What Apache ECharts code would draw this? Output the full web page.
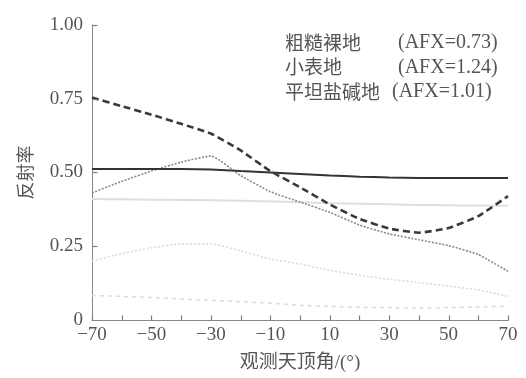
<!DOCTYPE html>
<html>
<head>
<meta charset="utf-8">
<script src="https://cdn.jsdelivr.net/npm/echarts@6/dist/echarts.min.js"></script>
<style>
  html, body { margin: 0; padding: 0; background: #fff; }
  #chart { width: 526px; height: 378px; }
</style>
</head>
<body>
<div id="chart"></div>
<script>
// View zenith angles (degrees)
const angles = [-70, -60, -50, -40, -30, -20, -10, 0, 10, 20, 30, 40, 50, 60, 70];

// Reflectance curves
const darkSolid  = [0.512, 0.512, 0.512, 0.512, 0.510, 0.505, 0.500, 0.495, 0.490, 0.486, 0.483, 0.481, 0.481, 0.481, 0.481];
const darkDashed = [0.754, 0.725, 0.696, 0.665, 0.632, 0.575, 0.505, 0.450, 0.392, 0.343, 0.310, 0.296, 0.312, 0.352, 0.420];
const grayDotted = [0.431, 0.470, 0.505, 0.535, 0.556, 0.490, 0.435, 0.400, 0.365, 0.322, 0.292, 0.272, 0.252, 0.222, 0.165];
const lightSolid = [0.410, 0.409, 0.408, 0.407, 0.406, 0.404, 0.402, 0.399, 0.396, 0.394, 0.392, 0.390, 0.389, 0.388, 0.387];
const lightDotted = [0.200, 0.225, 0.245, 0.258, 0.258, 0.235, 0.207, 0.190, 0.168, 0.152, 0.138, 0.127, 0.115, 0.102, 0.080];
const lightDashed = [0.083, 0.080, 0.076, 0.071, 0.067, 0.062, 0.057, 0.050, 0.046, 0.043, 0.042, 0.041, 0.042, 0.044, 0.047];

// Tick positions on both axes
const xTicks = [-70, -60, -50, -40, -30, -20, -10, 0, 10, 20, 30, 40, 50, 60, 70];
const yTicks = [0.25, 0.5, 0.75, 1.0];

// Surface types and anisotropy factors shown in the key
const surfaceNames = ['粗糙裸地', '小表地', '平坦盐碱地'];
const afxValues = ['0.73', '1.24', '1.01'];

const serif = "'Liberation Serif', 'Times New Roman', 'Noto Sans CJK SC', serif";
const textColor = '#555';
const tickColor = '#7a7a7a';
const tickLen = 5;

function pairs(values) {
  return angles.map((a, i) => [a, values[i]]);
}

function lineSeries(name, values, color, width, type, z) {
  return {
    name: name,
    type: 'line',
    data: pairs(values),
    showSymbol: false,
    smooth: 0.15,
    z: z,
    lineStyle: { color: color, width: width, type: type }
  };
}

// Inward tick marks drawn at the axis positions given by the scales
function tickSeries(name, data, vertical) {
  return {
    name: name,
    type: 'custom',
    data: data,
    encode: { x: 0, y: 1 },
    silent: true,
    clip: false,
    z: 6,
    renderItem: function (params, api) {
      const p = api.coord([api.value(0), api.value(1)]);
      const x = Math.round(p[0]) + 0.5;
      const y = Math.round(p[1]) + 0.5;
      const shape = vertical
        ? { x1: x, y1: y, x2: x, y2: y - tickLen }
        : { x1: x, y1: y, x2: x + tickLen, y2: y };
      return { type: 'line', shape: shape, style: { stroke: tickColor, lineWidth: 1.2 } };
    }
  };
}

const keyGraphics = [];
const keyAfxX = [398, 398, 392];
surfaceNames.forEach((n, i) => {
  const y = 44 + i * 24.5;
  keyGraphics.push({
    type: 'text', left: 285, top: y - 11,
    style: { text: n, font: "19px 'Noto Sans CJK SC', sans-serif", fill: textColor }
  });
  keyGraphics.push({
    type: 'text', left: keyAfxX[i], top: y - 11,
    style: { text: '(AFX=' + afxValues[i] + ')', font: "20px " + serif, fill: textColor }
  });
});

const chart = echarts.init(document.getElementById('chart'), null, { renderer: 'canvas' });
chart.setOption({
  animation: false,
  backgroundColor: '#fff',
  grid: { left: 92, right: 18, top: 25, bottom: 56 },
  xAxis: {
    type: 'value',
    min: -70, max: 70, interval: 10,
    name: '观测天顶角/(°)',
    nameLocation: 'middle',
    nameGap: 34,
    nameTextStyle: { fontFamily: serif, fontSize: 19, color: textColor },
    axisLine: { show: true, onZero: false, lineStyle: { color: '#888', width: 1 } },
    axisTick: { show: false },
    splitLine: { show: false },
    axisLabel: {
      margin: 6,
      fontFamily: serif, fontSize: 19, color: textColor,
      formatter: v => ((v + 70) % 20 === 0 ? String(v).replace('-', '\u2212') : '')
    }
  },
  yAxis: {
    type: 'value',
    min: 0, max: 1, interval: 0.25,
    name: '反射率',
    nameLocation: 'middle',
    nameRotate: 90,
    nameGap: 56,
    nameTextStyle: { fontFamily: serif, fontSize: 18, color: textColor },
    axisLine: { show: true, onZero: false, lineStyle: { color: '#888', width: 1 } },
    axisTick: { show: false },
    splitLine: { show: false },
    axisLabel: {
      margin: 9,
      fontFamily: serif, fontSize: 19, color: textColor,
      formatter: v => (v === 0 ? '0' : v.toFixed(2))
    }
  },
  graphic: keyGraphics,
  series: [
    lineSeries('lightDashed', lightDashed, '#dcdcdc', 1.5, [4, 4], 1),
    lineSeries('lightDotted', lightDotted, '#dadada', 1.6, [2, 2], 2),
    lineSeries('lightSolid', lightSolid, '#dedede', 2, 'solid', 1),
    lineSeries('grayDotted', grayDotted, '#8a8a8a', 1.6, [2, 1.5], 3),
    lineSeries('darkSolid', darkSolid, '#333', 2, 'solid', 4),
    lineSeries('darkDashed', darkDashed, '#3a3a3a', 2.6, [7, 4], 5),
    tickSeries('xTicks', xTicks.map(v => [v, 0]), true),
    tickSeries('yTicks', yTicks.map(v => [-70, v]), false)
  ]
});
</script>
</body>
</html>
